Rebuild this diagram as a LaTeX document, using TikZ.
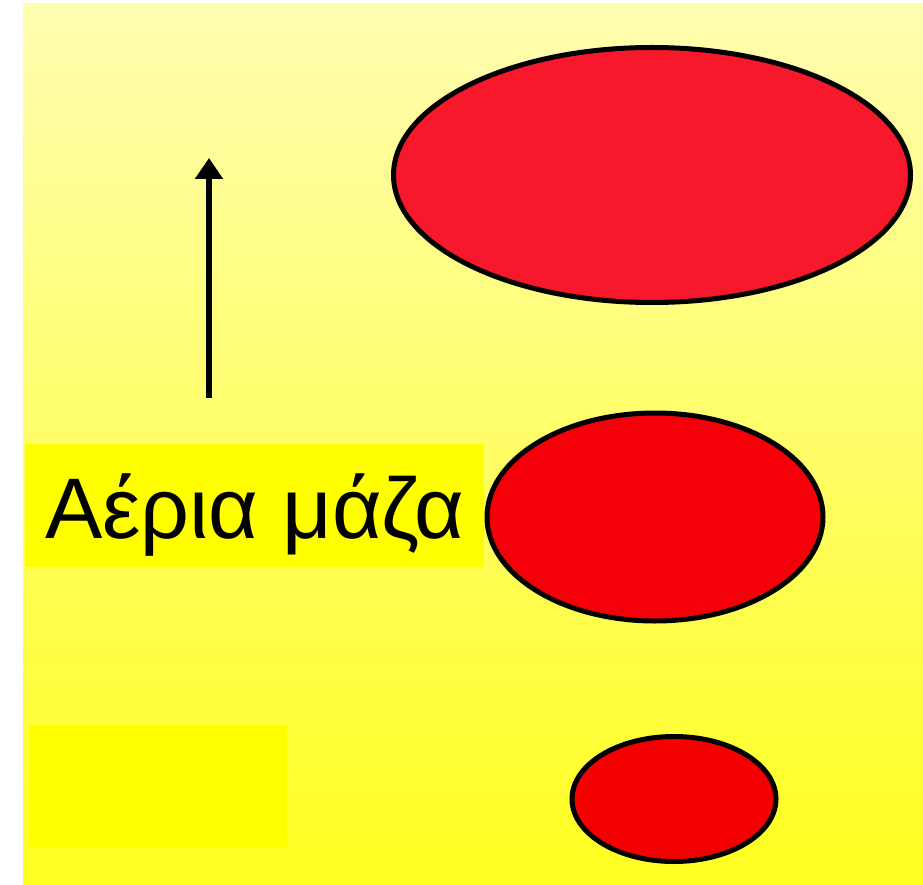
\documentclass[tikz,border=0pt]{standalone}
\usepackage{fontspec}
\newfontfamily\greekfont{Liberation Sans}
\usepackage{xcolor}
\usetikzlibrary{arrows.meta,positioning,shapes.geometric}
\definecolor{skytop}{RGB}{255,253,176}
\definecolor{skybottom}{RGB}{255,255,32}
\definecolor{boxyellow}{RGB}{255,255,0}
\definecolor{mass1}{RGB}{247,24,43}
\definecolor{mass2}{RGB}{245,0,8}
\definecolor{mass3}{RGB}{245,0,0}

\begin{document}
\begin{tikzpicture}[x=1pt,y=-1pt,
  airmass/.style={ellipse,draw=black,line width=5pt,inner sep=0pt},
  labelbox/.style={fill=boxyellow,inner sep=0pt,font=\greekfont\fontsize{86}{100}\selectfont}]
  \useasboundingbox (0,0) rectangle (923,885);
  \fill[white] (0,0) rectangle (923,885);
  \shade[top color=skytop,bottom color=skybottom] (23,4) rectangle (923,885);
  % air masses, large to small
  \node[airmass,fill=mass1,minimum width=517pt,minimum height=255pt] (big) at (652,175) {};
  \node[airmass,fill=mass2,minimum width=336pt,minimum height=208pt] (mid) at (655,517) {};
  \node[airmass,fill=mass3,minimum width=204pt,minimum height=125pt] (small) at (674,799) {};
  % labels
  \node[labelbox,minimum width=459pt,minimum height=123pt,text height=85pt,text depth=20pt] (name) at (254.5,505.5) {Αέρια μάζα};
  \node[fill=boxyellow,inner sep=0pt,minimum width=258pt,minimum height=122pt] (blank) at (158,786) {};
  % rising arrow
  \coordinate (rise0) at (209,398);
  \coordinate (rise1) at (209,158);
  \draw[line width=5.5pt,-{Triangle[width=27pt,length=21pt]}] (rise0) -- (rise1);
\end{tikzpicture}
\end{document}
